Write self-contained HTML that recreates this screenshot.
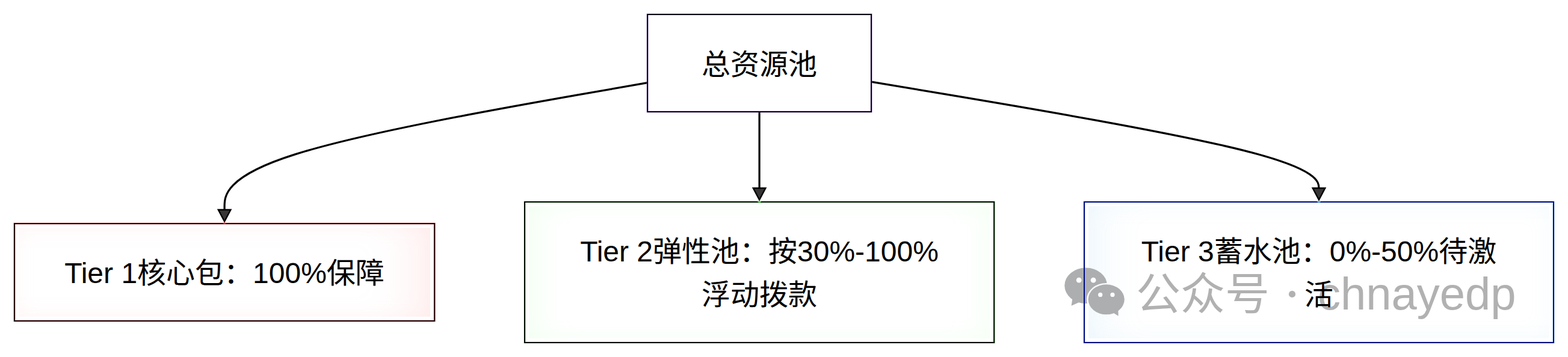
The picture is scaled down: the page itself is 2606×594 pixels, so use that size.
<!DOCTYPE html>
<html><head><meta charset="utf-8"><title>diagram</title>
<style>
html,body{margin:0;padding:0;background:#fff;}
body{width:2606px;height:594px;overflow:hidden;position:relative;font-family:"Liberation Sans",sans-serif;}
.fill{position:absolute;}
svg{position:absolute;left:0;top:0;}
</style></head><body>
<div class="fill" style="left:31px;top:379px;width:684px;height:148px;box-shadow:inset 0 0 30px rgba(255,190,190,.10),inset -70px 0 70px -35px rgba(255,170,170,.17);"></div>
<div class="fill" style="left:879px;top:343px;width:766px;height:220px;box-shadow:inset 0 0 36px rgba(170,255,170,.08),inset 50px 0 50px -25px rgba(170,255,170,.08),inset -50px 0 50px -25px rgba(170,255,170,.05);"></div>
<div class="fill" style="left:1809px;top:343px;width:766px;height:220px;box-shadow:inset 0 0 36px rgba(150,210,240,.08),inset 60px 0 60px -30px rgba(150,210,240,.10);"></div>
<svg width="2606" height="594" viewBox="0 0 2606 594">
<g id="wm" fill="#b1b1b1">
<text x="1888" y="515" font-size="74" fill="#b1b1b1" font-family='"Liberation Sans", "Noto Sans CJK SC", sans-serif'>公众号</text>
<text x="2190" y="515.2" font-size="76" fill="#b1b1b1" font-family='"Liberation Sans", "Noto Sans CJK SC", sans-serif'>chnayedp</text>
<circle cx="2147.5" cy="489.4" r="5.6"/>
<defs><mask id="mk" maskUnits="userSpaceOnUse" x="1700" y="400" width="300" height="200"><rect x="1700" y="400" width="300" height="200" fill="#fff"/><ellipse cx="1838.7" cy="498.3" rx="32.6" ry="27.4" fill="#000"/></mask></defs>
<g id="wx" fill="#adaeaf">
<g mask="url(#mk)"><ellipse cx="1804.7" cy="475.2" rx="35.4" ry="29.7"/><path d="M1782.5 496L1780.6 508.8L1794.5 502.5Z"/></g>
<ellipse cx="1838.7" cy="498.3" rx="30.1" ry="25"/><path d="M1849.5 520L1858.6 525.8L1858.5 516Z"/>
</g>
<g fill="#fff"><circle cx="1793.2" cy="466.2" r="4.4"/><circle cx="1817.1" cy="466.2" r="4.4"/><circle cx="1828.7" cy="490.4" r="3.6"/><circle cx="1849" cy="490.4" r="3.6"/></g>
</g>
<g id="edges" fill="none" stroke="#000" stroke-width="3.2">
<path d="M1076.1 137.6L958.9 158.1C841.8 178.7 607.4 219.8 490.3 256.9C373.1 293.9 373.1 327 373.1 343.5L373.1 360"/><path d="M1262.1 185.9L1262.1 198.4C1262.1 210.9 1262.1 235.9 1262.1 258.9C1262.1 281.9 1262.1 303 1262.1 313.5L1262.1 324"/><path d="M1448.1 136.1L1572.1 156.9C1696.1 177.7 1944 219.3 2068 250.6C2192 281.9 2192 303 2192 313.5L2192 324"/>
</g>
<g id="arrows"><path d="M360.8 347.8L373.1 371L385.4 347.8Z" fill="#000"/><path d="M364.8 350.2L373.1 365.9L381.4 350.2Z" fill="#383537"/><path d="M1249.8 311.8L1262.1 335L1274.4 311.8Z" fill="#000"/><path d="M1253.8 314.2L1262.1 329.9L1270.4 314.2Z" fill="#383537"/><path d="M2179.7 311.8L2192 335L2204.3 311.8Z" fill="#000"/><path d="M2183.7 314.2L2192.0 329.9L2200.3 314.2Z" fill="#383537"/></g>
<g id="boxes">
<path d="M1076.1 24H1448.1V185.9H1076.1Z" fill="none" stroke="#b78cff" stroke-opacity="0.55" stroke-width="3.1" stroke-linejoin="miter"/><path d="M1076.1 24H1448.1V185.9H1076.1Z" fill="none" stroke="#06000c" stroke-width="2.05" stroke-linejoin="miter"/>
<path d="M24 372H722.2V534H24Z" fill="none" stroke="#ff5a5a" stroke-opacity="0.55" stroke-width="3.1" stroke-linejoin="miter"/><path d="M24 372H722.2V534H24Z" fill="none" stroke="#1c0002" stroke-width="2.05" stroke-linejoin="miter"/>
<path d="M872 336H1652.2V570H872Z" fill="none" stroke="#55ff55" stroke-opacity="0.55" stroke-width="3.1" stroke-linejoin="miter"/><path d="M872 336H1652.2V570H872Z" fill="none" stroke="#000500" stroke-width="2.05" stroke-linejoin="miter"/>
<path d="M1802 336H2582V570H1802Z" fill="none" stroke="#7fd4ff" stroke-opacity="0.55" stroke-width="3.1" stroke-linejoin="miter"/><path d="M1802 336H2582V570H1802Z" fill="none" stroke="#000a80" stroke-width="2.05" stroke-linejoin="miter"/>
</g>
<ellipse cx="373.1" cy="371.6" rx="2.6" ry="1.1" fill="#ff2020"/>
<ellipse cx="1262.1" cy="335.6" rx="3" ry="1.1" fill="#30ff30"/>
<ellipse cx="2192" cy="335.6" rx="3" ry="1.1" fill="#40c8ff"/>
<g id="txt" fill="#000" font-size="48" text-anchor="middle" font-family='"Liberation Sans", "Noto Sans CJK SC", sans-serif'>
<text x="1262" y="124">总资源池</text>
<text x="373" y="470.6">Tier 1核心包：100%保障</text>
<text x="1262" y="434.6">Tier 2弹性池：按30%-100%</text>
<text x="1262" y="506.6">浮动拨款</text>
<text x="2192" y="434.6">Tier 3蓄水池：0%-50%待激</text>
<text x="2192" y="506.6">活</text>
</g>
</svg>
</body></html>
